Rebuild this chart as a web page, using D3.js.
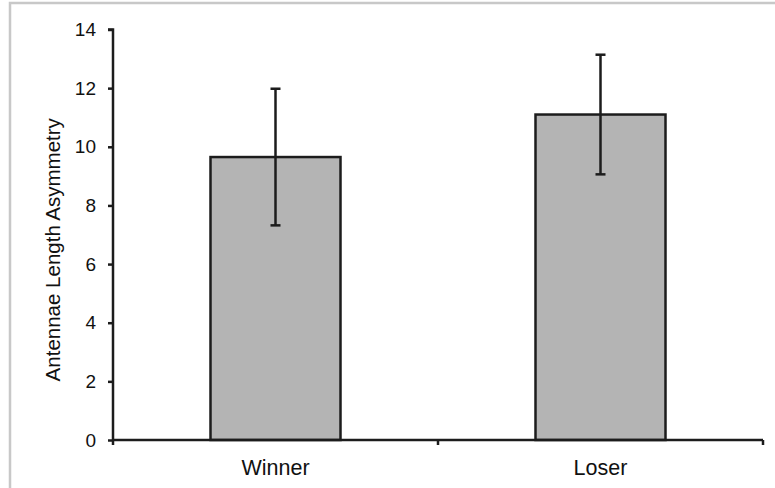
<!DOCTYPE html>
<html>
<head>
<meta charset="utf-8">
<script src="https://cdn.jsdelivr.net/npm/d3@7"></script>
<style>
  html, body { margin: 0; padding: 0; background: #fff; }
  svg { display: block; }
  text { font-family: "Liberation Sans", Arial, Helvetica, sans-serif; fill: #111; }
</style>
</head>
<body>
<svg id="chart" width="775" height="488"></svg>
<script>
const categories = ["Winner", "Loser"];
const values = [9.65, 11.1];
const errors = [2.33, 2.04];
const yTicks = [0, 2, 4, 6, 8, 10, 12, 14];
const yTitle = "Antennae Length Asymmetry";

const svg = d3.select("#chart");

// outer frame
svg.append("rect")
  .attr("x", 10).attr("y", 3)
  .attr("width", 800).attr("height", 520)
  .attr("fill", "none").attr("stroke", "#c8c8c8").attr("stroke-width", 2.5);

const x = d3.scaleBand().domain(categories).range([113, 763]).paddingInner(0.6).paddingOuter(0.3);
const xOuter = d3.scaleBand().domain(categories).range([113, 763]);
const y = d3.scaleLinear().domain([0, 14]).range([440, 29.5]);

const stroke = "#1c1c1c";

// bars
svg.append("g").selectAll("rect")
  .data(categories)
  .join("rect")
  .attr("x", d => x(d))
  .attr("y", (d, i) => y(values[i]))
  .attr("width", x.bandwidth())
  .attr("height", (d, i) => y(0) - y(values[i]))
  .attr("fill", "#b4b4b4")
  .attr("stroke", stroke)
  .attr("stroke-width", 2.5);

// error bars
const eg = svg.append("g").attr("stroke", stroke).attr("stroke-width", 2.5);
categories.forEach((c, i) => {
  const cx = x(c) + x.bandwidth() / 2;
  const hi = y(values[i] + errors[i]);
  const lo = y(values[i] - errors[i]);
  eg.append("line").attr("x1", cx).attr("x2", cx).attr("y1", hi).attr("y2", lo);
  eg.append("line").attr("x1", cx - 5).attr("x2", cx + 5).attr("y1", hi).attr("y2", hi);
  eg.append("line").attr("x1", cx - 5).attr("x2", cx + 5).attr("y1", lo).attr("y2", lo);
});

// y axis
const yAxis = d3.axisLeft(y).tickValues(yTicks).tickSize(5).tickPadding(12).tickFormat(d3.format("d"));
const gy = svg.append("g").attr("transform", "translate(113,0)").call(yAxis);
gy.select(".domain").attr("stroke", stroke).attr("stroke-width", 2.5).attr("d", `M-5,${y(14)}H0V${y(0)}`);
gy.selectAll(".tick line").attr("stroke", stroke).attr("stroke-width", 2.5);
gy.selectAll(".tick text").style("font-size", "19px").attr("fill", "#111");

// x axis
const gx = svg.append("g").attr("transform", `translate(0,${y(0)})`);
gx.append("line").attr("x1", 113).attr("x2", 763).attr("y1", 0).attr("y2", 0)
  .attr("stroke", stroke).attr("stroke-width", 2.5);
const bounds = [xOuter.range()[0], ...categories.map(c => xOuter(c) + xOuter.bandwidth())];
gx.selectAll("line.xt").data(bounds).join("line").attr("class", "xt")
  .attr("x1", d => d).attr("x2", d => d).attr("y1", 0).attr("y2", 5)
  .attr("stroke", stroke).attr("stroke-width", 2.5);
gx.selectAll("text").data(categories).join("text")
  .attr("x", d => x(d) + x.bandwidth() / 2)
  .attr("y", 35)
  .attr("text-anchor", "middle")
  .style("font-size", "21.5px")
  .text(d => d);

// y title
svg.append("text")
  .attr("transform", `translate(60,${(y(0) + y(14)) / 2 + 15}) rotate(-90)`)
  .attr("text-anchor", "middle")
  .style("font-size", "20.5px")
  .text(yTitle);
</script>
</body>
</html>
